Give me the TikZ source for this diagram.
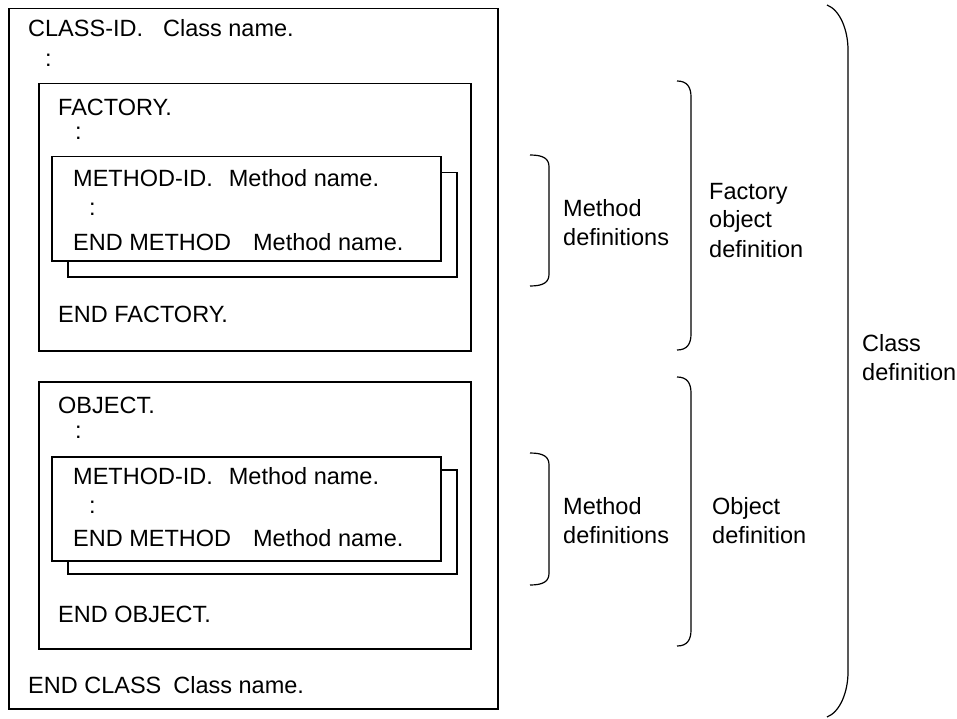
\documentclass[tikz,border=0pt]{standalone}
\usepackage{fontspec}
\setmainfont{Liberation Sans}
\tikzset{
	frame/.style={rectangle, draw=black, line width=1.5pt, fill=white,
		anchor=north west, inner sep=0pt},
	code/.style={anchor=base west, inner sep=0pt, font=\fontsize{23.5}{29}\selectfont},
	note/.style={anchor=base west, inner sep=0pt, align=left,
		font=\fontsize{23.5}{29}\selectfont},
	bracket/.style={draw=black, line width=1.2pt}
}
\begin{document}
\begin{tikzpicture}[x=1pt, y=-1pt]
	\useasboundingbox (0,0) rectangle (957,719);
	% class block
	\node[frame, minimum width=489pt, minimum height=700pt] (classbox) at (8,8) {};
	\node[code] (classid) at (28,37) {CLASS-ID.\hspace{20pt}Class name.};
	\node[code] (classdots) at (45,67) {:};
	\node[code] (endclass) at (28,693) {END CLASS\hspace{12pt}Class name.};
	% factory block
	\node[frame, minimum width=432pt, minimum height=267pt] (factbox) at (38,83) {};
	\node[code] (fact) at (58,116) {FACTORY.};
	\node[code] (factdots) at (75,140) {:};
	\node[frame, minimum width=389pt, minimum height=104pt] (fmback) at (67,172) {};
	\node[frame, minimum width=389pt, minimum height=104pt] (fmfront) at (51,156) {};
	\node[code] (fmid) at (73,187) {METHOD-ID.\hspace{16pt}Method name.};
	\node[code] (fmdots) at (89,215) {:};
	\node[code] (fmend) at (73,250) {END METHOD\hspace{22pt}Method name.};
	\node[code] (endfact) at (58,322) {END FACTORY.};
	% object block
	\node[frame, minimum width=432pt, minimum height=267pt] (objbox) at (38,381) {};
	\node[code] (obj) at (58,413) {OBJECT.};
	\node[code] (objdots) at (75,438) {:};
	\node[frame, minimum width=389pt, minimum height=104pt] (omback) at (67,469) {};
	\node[frame, minimum width=389pt, minimum height=104pt] (omfront) at (51,456) {};
	\node[code] (omid) at (73,484) {METHOD-ID.\hspace{16pt}Method name.};
	\node[code] (omdots) at (89,513) {:};
	\node[code] (omend) at (73,546) {END METHOD\hspace{22pt}Method name.};
	\node[code] (endobj) at (58,622) {END OBJECT.};
	% brackets
	\draw[bracket] (530,155) .. controls (544,155) and (549,159) .. (549,167)
		-- (549,274) .. controls (549,282) and (544,286) .. (530,286);
	\draw[bracket] (530,453) .. controls (544,453) and (549,457) .. (549,465)
		-- (549,573) .. controls (549,581) and (544,585) .. (530,585);
	\draw[bracket] (677,81) .. controls (687,81) and (691,87) .. (691,97)
		-- (691,334) .. controls (691,344) and (687,350) .. (677,350);
	\draw[bracket] (677,377) .. controls (687,377) and (691,383) .. (691,393)
		-- (691,630) .. controls (691,640) and (687,646) .. (677,646);
	\draw[bracket] (827,5) .. controls (840,10) and (848,30) .. (848,50)
		-- (848,672) .. controls (848,692) and (840,712) .. (827,717);
	% labels (anchored at last line)
	\node[note] (fmlabel) at (563,245) {Method\\definitions};
	\node[note] (factlabel) at (709,257) {Factory\\object\\definition};
	\node[note] (omlabel) at (563,543) {Method\\definitions};
	\node[note] (objlabel) at (712,543) {Object\\definition};
	\node[note] (classlabel) at (862,380) {Class\\definition};
\end{tikzpicture}
\end{document}
